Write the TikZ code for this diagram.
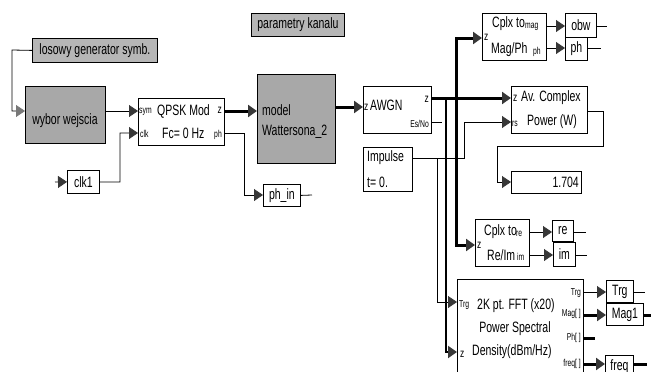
\documentclass[tikz,border=0pt]{standalone}
\usepackage{fontspec}
\setmainfont{Liberation Sans}[FakeStretch=0.7]
\newfontfamily\portf{Liberation Sans}[FakeStretch=0.68]
\usetikzlibrary{arrows.meta}
\definecolor{blkgray}{RGB}{168,168,168}
\definecolor{lblgray}{RGB}{182,182,182}
\definecolor{tipgray}{RGB}{55,55,55}
\definecolor{tipgrayl}{RGB}{120,120,120}
\begin{document}
\begin{tikzpicture}[x=1pt,y=-1pt,
  blk/.style={draw=black, line width=0.8pt, fill=white, inner sep=0pt, anchor=north west, font=\fontsize{15}{16}\selectfont},
  gblk/.style={blk, fill=blkgray},
  lblk/.style={blk, fill=lblgray},
  txt/.style={inner sep=0pt, font=\fontsize{15}{16}\selectfont},
  port/.style={inner sep=0pt, font=\portf\fontsize{10}{11}\selectfont},
  portz/.style={inner sep=0pt, font=\fontsize{12}{13}\selectfont},
  wire/.style={line width=0.8pt},
  thk/.style={line width=3pt},
  med/.style={line width=2pt},
  arr/.style={-{Triangle[length=9pt,width=12pt,fill=tipgray,color=tipgray]}},
  arrl/.style={-{Triangle[length=9pt,width=12pt,fill=tipgrayl,color=tipgrayl]}}]
\useasboundingbox (0,0) rectangle (651,372);

% ---------- blocks ----------
\node[lblk, minimum width=125, minimum height=24] (losowy) at (32,38) {losowy generator symb.};
\node[lblk, minimum width=93, minimum height=23] (param) at (251,13) {parametry kanalu};
\node[gblk, minimum width=80, minimum height=57] (wybor) at (25,86) {};
\node[blk, minimum width=86, minimum height=47] (qpsk) at (138,98) {};
\node[blk, minimum width=32, minimum height=23] (clk) at (67,170) {clk1};
\node[gblk, minimum width=78, minimum height=89] (watt) at (257,74) {};
\node[blk, minimum width=37, minimum height=22] (phin) at (263,184) {ph\_in};
\node[blk, minimum width=68, minimum height=47] (awgn) at (363,86) {};
\node[blk, minimum width=49, minimum height=44] (imp) at (363,147) {};
\node[blk, minimum width=76, minimum height=47] (avc) at (511,86) {};
\node[blk, minimum width=70, minimum height=22] (val) at (511,171) {};
\node[blk, minimum width=64, minimum height=47] (magph) at (482,13) {};
\node[blk, minimum width=31, minimum height=24] (obw) at (565,13) {obw};
\node[blk, minimum width=22, minimum height=23] (phout) at (565,37) {ph};
\node[blk, minimum width=54, minimum height=47] (reim) at (475,219) {};
\node[blk, minimum width=21, minimum height=21] (re) at (552,220) {re};
\node[blk, minimum width=22, minimum height=24] (im) at (553,242) {im};
\node[blk, minimum width=126, minimum height=100] (fft) at (457,279) {};
\node[blk, minimum width=27, minimum height=22] (trg) at (606,280) {Trg};
\node[blk, minimum width=37, minimum height=22] (mag1) at (606,303) {Mag1};
\node[blk, minimum width=28, minimum height=22] (freq) at (605,355) {freq};

% ---------- texts ----------
\node[txt] (t_wyb) at (65,121) {wybor wejscia};
\node[port, anchor=west] (p_sym) at (139,112) {sym};
\node[txt, anchor=west] (t_q1) at (157,111) {QPSK Mod};
\node[portz, anchor=east] (p_qz) at (222,110) {z};
\node[port, anchor=west] (p_clk) at (140,134) {clk};
\node[txt, anchor=west] (t_q2) at (162,133) {Fc= 0 Hz};
\node[port, anchor=east] (p_qph) at (222,135) {ph};
\node[txt, anchor=west] (t_w1) at (262,110) {model};
\node[txt, anchor=west] (t_w2) at (262,132) {Wattersona\_2};
\node[portz, anchor=west] (p_az) at (364,107) {z};
\node[txt, anchor=west] (t_awgn) at (370,105) {AWGN};
\node[portz, anchor=east] (p_az2) at (429,99) {z};
\node[port, anchor=east] (p_es) at (429,124) {Es/No};
\node[txt, anchor=west] (t_i1) at (367,158) {Impulse};
\node[txt, anchor=west] (t_i2) at (367,182) {t= 0.};
\node[portz, anchor=west] (p_avz) at (513,98) {z};
\node[txt, anchor=west] (t_av1) at (521,98) {Av. Complex};
\node[port, anchor=west] (p_rs) at (512,124) {rs};
\node[txt, anchor=west] (t_av2) at (527,122) {Power (W)};
\node[txt, anchor=east] (t_val) at (579,182) {1.704};
\node[portz, anchor=west] (p_mz) at (484,37) {z};
\node[txt, anchor=west] (t_m1) at (492,24) {Cplx to};
\node[port, anchor=west] (p_mag) at (525,27) {mag};
\node[txt, anchor=west] (t_m2) at (491,50) {Mag/Ph};
\node[port, anchor=west] (p_mph) at (533,52) {ph};
\node[portz, anchor=west] (p_rz) at (477,245) {z};
\node[txt, anchor=west] (t_r1) at (484,232) {Cplx to};
\node[port, anchor=west] (p_re) at (516,234) {re};
\node[txt, anchor=west] (t_r2) at (487,255) {Re/Im};
\node[port, anchor=west] (p_im) at (517,257) {im};
\node[port, anchor=west] (p_ftrg) at (459,305) {Trg};
\node[txt, anchor=west] (t_f1) at (477,306) {2K pt. FFT (x20)};
\node[txt] (t_f2) at (515,329) {Power Spectral};
\node[txt, anchor=west] (t_f3) at (472,352) {Density(dBm/Hz)};
\node[portz, anchor=west] (p_fz) at (460,354) {z};
\node[port, anchor=east] (p_otrg) at (581,293) {Trg};
\node[port, anchor=east] (p_omag) at (581,314) {Mag[ ]};
\node[port, anchor=east] (p_oph) at (581,338) {Ph[ ]};
\node[port, anchor=east] (p_ofr) at (581,364) {freq[ ]};

% ---------- port coordinates ----------
\coordinate (wyb_in) at (25,111);
\coordinate (wyb_out) at (105,111);
\coordinate (q_sym) at (138,111);
\coordinate (q_clk) at (138,133);
\coordinate (q_z) at (224,111);
\coordinate (q_ph) at (224,133);
\coordinate (w_in) at (257,111);
\coordinate (w_out) at (335,107);
\coordinate (a_in) at (363,107);
\coordinate (a_z) at (431,98);
\coordinate (a_es) at (431,122);
\coordinate (es_end) at (442,122);
\coordinate (av_z) at (511,98);
\coordinate (av_rs) at (511,122);
\coordinate (av_out) at (587,111);
\coordinate (val_in) at (511,182);
\coordinate (imp_out) at (412,158);
\coordinate (m_in) at (482,38);
\coordinate (m_mag) at (546,26);
\coordinate (m_ph) at (546,48);
\coordinate (r_in) at (475,245);
\coordinate (r_re) at (529,232);
\coordinate (r_im) at (529,255);
\coordinate (f_trg) at (457,302);
\coordinate (f_z) at (457,352);
\coordinate (f_otrg) at (583,292);
\coordinate (f_omag) at (583,315);
\coordinate (f_oph) at (583,338);
\coordinate (f_ofr) at (583,364);
\coordinate (clk_src) at (55,182);
\coordinate (phin_in) at (263,195);

% ---------- connectors ----------
\draw[wire, arrl] (losowy.west) -- (12,50) -- (12,111) -- (wyb_in);
\draw[wire, arr] (wyb_out) -- (q_sym);
\draw[wire, arr] (clk_src) -- (clk.west);
\draw[wire, arr] (clk.east) -- (120,182) -- (120,133) -- (q_clk);
\draw[thk, arr] (q_z) -- (w_in);
\draw[wire, arr] (q_ph) -- (244,133) -- (244,195) -- (phin_in);
\draw[wire] (phin.east) -- (312,195);
\draw[thk, arr] (w_out) -- (a_in);
\draw[thk, arr] (a_z) -- (av_z);
\draw[thk, arr] (456,98) -- (456,38) -- (m_in);
\draw[thk, arr] (456,98) -- (456,245) -- (r_in);
\draw[med, arr] (446,98) -- (446,352) -- (f_z);
\draw[wire] (a_es) -- (es_end);
\draw[wire, arr] (imp_out) -- (464,158) -- (464,122) -- (av_rs);
\draw[wire, arr] (437,158) -- (437,302) -- (f_trg);
\draw[wire, arr] (av_out) -- (603,111) -- (603,146) -- (497,146) -- (497,182) -- (val_in);
\draw[wire, arr] (m_mag) -- (obw.west |- m_mag);
\draw[wire, arr] (m_ph) -- (phout.west |- m_ph);
\draw[wire] (obw.east |- m_mag) -- (607,26);
\draw[wire] (phout.east |- m_ph) -- (601,48);
\draw[wire, arr] (r_re) -- (re.west |- r_re);
\draw[wire, arr] (r_im) -- (im.west |- r_im);
\draw[wire] (re.east |- r_re) -- (586,232);
\draw[wire] (im.east |- r_im) -- (587,255);
\draw[wire, arr] (f_otrg) -- (trg.west |- f_otrg);
\draw[wire] (trg.east |- f_otrg) -- (645,292);
\draw[thk, arr] (f_omag) -- (mag1.west |- f_omag);
\draw[thk] (mag1.east |- f_omag) -- (653,315);
\draw[thk] (f_oph) -- (595,338);
\draw[thk, arr] (f_ofr) -- (freq.west |- f_ofr);
\draw[thk] (freq.east |- f_ofr) -- (647,364);
\end{tikzpicture}
\end{document}
